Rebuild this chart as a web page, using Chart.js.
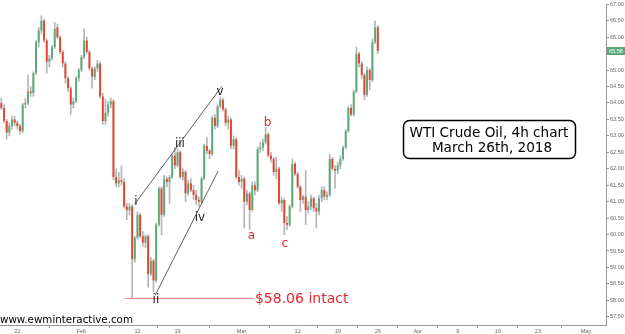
<!DOCTYPE html>
<html><head><meta charset="utf-8">
<script src="https://cdn.jsdelivr.net/npm/chart.js@4.4.1/dist/chart.umd.min.js"></script>
<style>html,body{margin:0;padding:0;background:#fff;overflow:hidden}#wrap{width:625px;height:334px;position:relative}</style>
</head><body><div id="wrap"><canvas id="c" width="625" height="334"></canvas></div>
<script>
// ---- data (4h-style candles) ----
const opens = [64.00,63.85,63.45,63.10,63.30,63.50,63.40,63.30,63.15,63.95,64.00,64.35,64.30,64.90,65.85,66.20,66.50,65.90,65.25,65.35,
65.70,66.30,66.00,65.55,65.20,64.75,64.45,63.95,64.05,64.75,65.00,65.40,65.90,65.55,65.05,64.80,65.05,65.20,64.20,63.45,
63.70,63.95,64.05,61.75,61.55,61.65,61.60,60.85,60.75,60.85,59.25,59.90,60.60,59.95,59.75,59.95,58.80,59.20,58.60,60.30,
61.40,60.60,61.70,61.60,61.75,62.40,62.10,62.50,61.75,61.90,61.25,61.55,61.35,61.20,61.05,61.00,61.70,62.70,62.55,62.45,
63.55,63.30,63.90,64.10,63.80,63.40,63.50,62.70,62.90,61.75,61.60,61.70,61.00,61.25,60.75,61.50,61.35,62.60,62.65,62.80,
63.05,62.40,62.30,61.90,62.00,60.95,61.05,60.35,60.30,60.85,62.15,61.85,61.45,61.05,61.15,60.75,60.85,61.10,60.80,60.70,
61.10,61.35,61.15,61.20,62.30,62.00,61.95,62.10,62.30,62.65,63.15,63.85,63.65,64.35,65.50,65.20,64.85,64.25,65.00,64.70,
65.85,66.30];
const highs = [64.15,63.95,63.50,63.40,63.60,63.60,63.45,63.35,64.00,64.15,64.85,64.50,64.95,65.90,66.30,66.65,66.55,65.95,65.45,65.75,
66.45,66.40,66.05,65.60,65.25,64.80,64.50,64.15,64.80,65.05,65.45,66.25,66.00,65.60,65.10,65.10,65.30,65.25,64.30,64.10,
64.05,64.15,64.10,62.00,61.90,62.10,61.70,60.95,60.95,60.90,59.95,60.70,60.65,60.10,60.00,60.00,59.30,59.25,60.35,61.45,
61.45,61.80,61.75,61.80,62.45,62.65,62.60,62.55,62.00,61.95,61.65,61.70,61.50,61.35,61.15,61.75,62.75,62.95,62.60,63.60,
63.65,63.95,64.18,64.15,63.85,63.60,63.55,63.00,62.95,61.95,61.80,61.75,61.35,61.30,61.60,61.60,62.65,62.80,62.90,63.25,
63.10,62.50,62.35,62.35,62.05,61.15,61.10,60.55,60.90,62.30,62.20,61.90,61.50,61.20,61.95,61.00,61.20,61.15,60.95,61.20,
61.45,61.45,61.30,62.45,62.35,62.10,62.20,62.40,62.70,63.20,63.90,63.95,64.40,65.70,65.55,65.25,64.90,65.10,65.05,65.95,
66.50,66.35];
const lows = [63.80,63.40,62.90,63.00,63.20,63.30,63.20,63.05,63.10,63.85,63.95,64.20,64.20,64.85,65.70,66.10,65.85,64.90,65.10,65.30,
65.65,65.95,65.50,65.10,64.60,64.35,63.65,63.85,64.00,64.65,64.95,65.35,65.50,65.00,64.45,64.70,64.95,64.15,63.35,63.35,
63.60,63.85,61.65,61.45,61.45,61.50,60.80,60.45,60.60,58.06,59.15,59.85,59.90,59.65,59.60,58.40,58.75,58.25,58.55,60.25,
60.00,60.55,61.45,60.95,61.70,62.00,62.05,61.70,61.65,61.00,61.20,61.30,61.05,60.90,60.85,60.95,61.65,62.45,62.30,62.40,
63.20,63.25,63.85,63.75,63.30,63.20,62.60,62.60,61.70,61.50,61.40,60.20,60.90,60.15,60.70,61.20,61.30,62.50,62.55,62.75,
62.35,62.20,61.80,61.70,60.90,60.70,60.00,60.15,60.25,60.80,61.80,61.40,60.70,60.95,60.30,60.65,60.75,60.70,60.20,60.60,
61.00,61.05,61.05,61.15,61.95,61.40,61.85,62.00,62.25,62.60,63.10,63.60,63.60,64.30,65.10,64.75,64.10,64.20,64.40,64.65,
65.80,65.50];
const closes = [63.85,63.45,63.10,63.30,63.50,63.40,63.30,63.15,63.95,64.00,64.35,64.30,64.90,65.85,66.20,66.50,65.90,65.25,65.35,65.70,
66.25,66.00,65.55,65.20,64.75,64.45,63.95,64.05,64.75,65.00,65.40,65.90,65.55,65.05,64.80,65.05,65.20,64.20,63.45,63.70,
63.95,64.05,61.75,61.55,61.65,61.60,60.85,60.75,60.85,59.25,59.90,60.60,59.95,59.75,59.95,58.80,59.20,58.60,60.30,61.40,
60.60,61.70,61.60,61.75,62.40,62.10,62.50,61.75,61.90,61.25,61.55,61.35,61.20,61.05,61.00,61.70,62.70,62.55,62.45,63.55,
63.30,63.90,64.10,63.80,63.40,63.50,62.70,62.90,61.75,61.60,61.70,61.00,61.25,60.75,61.50,61.35,62.60,62.65,62.80,63.05,
62.40,62.30,61.90,62.00,60.95,61.05,60.35,60.30,60.85,62.15,61.85,61.45,61.05,61.15,60.75,60.85,61.10,60.80,60.70,61.10,
61.35,61.15,61.20,62.30,62.00,61.95,62.10,62.30,62.65,63.15,63.85,63.65,64.35,65.50,65.20,64.85,64.25,65.00,64.70,65.85,
66.30,65.58];
const tickDates  = ['2018-01-22','2018-02-01','2018-02-12','2018-02-19','2018-03-01','2018-03-12','2018-03-19','2018-03-26','2018-04-02','2018-04-09','2018-04-16','2018-04-23','2018-05-01'];
const tickLabels = ['22','Feb','12','19','Mar','12','19','26','Apr','9','16','23','May'];
const lastPrice = 65.58;
const supportLevel = 58.06;

// ---- categories: 3 slots per trading day, Jan 18 (from 2nd slot) to May 3 ----
const slotNames = ['00h','08h','16h'];
const categories = [];
(function(){
  const d = new Date(Date.UTC(2018,0,18));
  const end = new Date(Date.UTC(2018,4,3));
  let first = true;
  while (d <= end) {
    const wd = d.getUTCDay();
    if (wd !== 0 && wd !== 6) {
      const ds = d.toISOString().slice(0,10);
      for (let s = first ? 1 : 0; s < 3; s++) categories.push(ds + ' ' + slotNames[s]);
      first = false;
    }
    d.setUTCDate(d.getUTCDate()+1);
  }
})();
const tickIdx = tickDates.map(t => categories.indexOf(t + ' 08h'));

const GREEN = '#5aa97b', RED = '#e8432d', WICK = '#b5b5b5';
const AX = '#9a9a9a', TXT = '#666';
const tickFont = {family:'Liberation Sans', size:5.5};

const annot = {
  id:'annot',
  afterDatasetsDraw(chart){
    const ctx = chart.ctx, xs = chart.scales.x, ys = chart.scales.y;
    const P = (i,v) => [xs.getPixelForValue(i), ys.getPixelForValue(v)];
    ctx.save();
    // channel lines
    ctx.strokeStyle = '#333'; ctx.lineWidth = 0.8;
    const seg = (a,b) => { const p=P(a[0],a[1]), q=P(b[0],b[1]); ctx.beginPath(); ctx.moveTo(p[0],p[1]); ctx.lineTo(q[0],q[1]); ctx.stroke(); };
    seg([50.1,60.94],[82.6,64.51]);
    seg([57.6,58.15],[81.2,61.93]);
    // support line
    const yS = ys.getPixelForValue(supportLevel);
    ctx.strokeStyle = '#f07474'; ctx.lineWidth = 1;
    ctx.beginPath(); ctx.moveTo(xs.getPixelForValue(46.3), yS); ctx.lineTo(xs.getPixelForValue(94.3), yS); ctx.stroke();
    ctx.fillStyle = '#e8262b'; ctx.font = '14px "DejaVu Sans"'; ctx.textBaseline = 'middle'; ctx.textAlign = 'left';
    ctx.fillText('$58.06 intact', xs.getPixelForValue(95.0), yS + 1);
    // wave labels
    ctx.textBaseline = 'alphabetic'; ctx.textAlign = 'center'; ctx.font = '12px "DejaVu Sans"';
    const lab = (t,i,v,c) => { const p=P(i,v); ctx.fillStyle=c; ctx.fillText(t,p[0],p[1]); };
    const K = '#1c1c2a', R = '#e8262b';
    lab('i',50.4,60.91,K); lab('ii',57.9,57.91,K); lab('iii',66.9,62.65,K); lab('iv',74.4,60.40,K); lab('v',81.9,64.24,K);
    lab('a',93.7,59.86,R); lab('b',99.7,63.31,R); lab('c',106.2,59.62,R);
    // title box
    ctx.strokeStyle = '#000'; ctx.lineWidth = 1.5; ctx.fillStyle = '#fff';
    ctx.beginPath(); ctx.roundRect(403.5,120.5,172,38,6); ctx.fill(); ctx.stroke();
    ctx.fillStyle = '#000'; ctx.font = '13.6px "DejaVu Sans"';
    ctx.fillText('WTI Crude Oil, 4h chart', 489, 137);
    ctx.fillText('March 26th, 2018', 492, 152);
    // watermark
    ctx.textAlign = 'left'; ctx.font = '10.3px "DejaVu Sans"';
    ctx.fillText('www.ewminteractive.com', 0, 323);
    // last price tag
    const yP = ys.getPixelForValue(lastPrice);
    ctx.fillStyle = GREEN; ctx.fillRect(607, yP-4, 18, 8);
    ctx.fillStyle = '#fff'; ctx.font = '5.5px "Liberation Sans"'; ctx.textBaseline='middle';
    ctx.fillText(lastPrice.toFixed(2), 609, yP+0.3);
    ctx.restore();
  }
};

new Chart(document.getElementById('c'), {
  type:'bar',
  data:{
    labels: categories,
    datasets:[
      { label:'body', data: opens.map((o,i)=>[o, closes[i]]),
        backgroundColor: c => closes[c.dataIndex] >= opens[c.dataIndex] ? GREEN : RED,
        barPercentage:0.72, categoryPercentage:1, grouped:false, order:0, minBarLength:1, borderWidth:0 },
      { label:'wick', data: lows.map((l,i)=>[l, highs[i]]),
        backgroundColor: WICK, barThickness:1, grouped:false, order:1, borderWidth:0 }
    ]
  },
  options:{
    responsive:false, animation:false, devicePixelRatio:1,
    layout:{padding:0, autoPadding:false},
    plugins:{legend:{display:false}, tooltip:{enabled:false}},
    scales:{
      x:{
        offset:true,
        afterBuildTicks: s => { s.ticks = tickIdx.map(v => ({value:v})); },
        afterFit: s => { s.height = 9; },
        ticks:{autoSkip:false, maxRotation:0, padding:0, font:tickFont, color:TXT,
               callback:(v,i) => tickLabels[i]},
        grid:{drawOnChartArea:false, tickLength:3, color:AX},
        border:{color:AX}
      },
      y:{
        position:'right', min:57.25, max:67,
        afterFit: s => { s.width = 19; },
        ticks:{stepSize:0.5, includeBounds:false, padding:1, font:tickFont, color:TXT,
               callback: v => v.toFixed(2)},
        grid:{drawOnChartArea:false, tickLength:3, color:AX},
        border:{color:AX}
      }
    }
  },
  plugins:[annot]
});
</script></body></html>
